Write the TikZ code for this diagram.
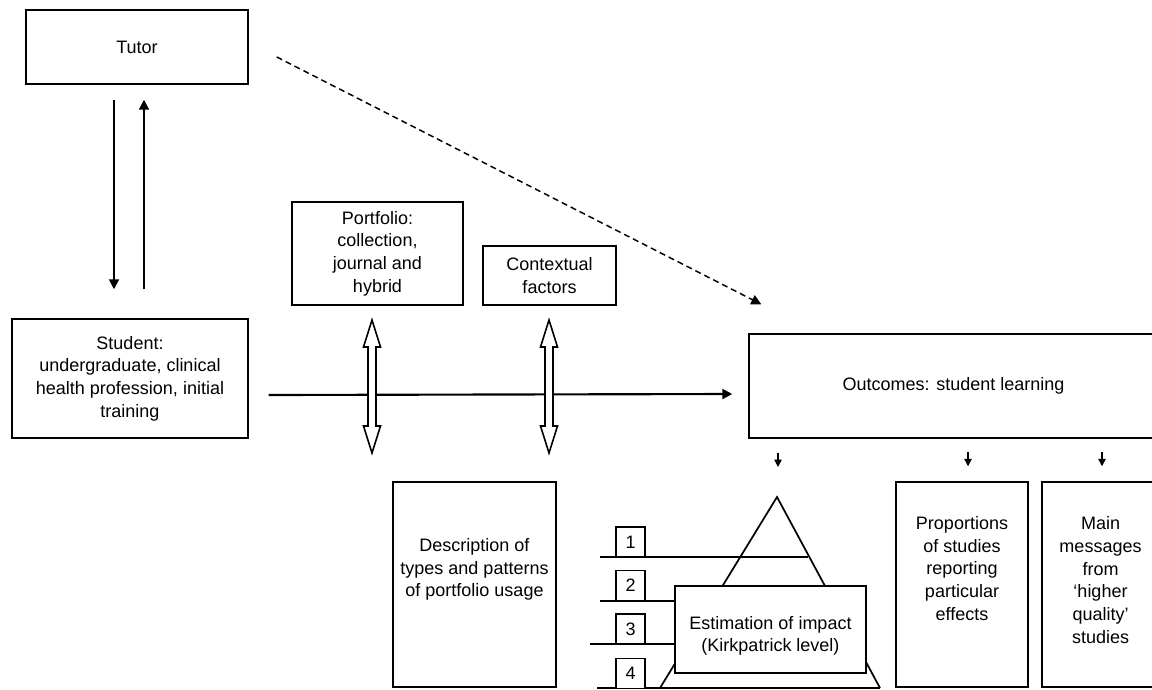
\documentclass[tikz,border=0pt]{standalone}
\usepackage{fontspec}
\setmainfont{Liberation Sans}
\usetikzlibrary{arrows.meta,calc}
\tikzset{
  dblarr/.pic={
    \draw[line width=1.2pt, fill=white, line join=miter]
      (0,-66.5) -- (8.5,-39.5) -- (4,-39.5) -- (4,39.5) -- (8.5,39.5) -- (0,66.5)
      -- (-8.5,39.5) -- (-4,39.5) -- (-4,-39.5) -- (-8.5,-39.5) -- cycle;
  }
}
\begin{document}
\begin{tikzpicture}[x=0.75pt,y=-0.75pt,
  every node/.style={font=\fontsize{13.5}{17}\selectfont, align=center},
  box/.style={draw, line width=1.1pt, fill=white, inner sep=0pt},
  txt/.style={inner sep=0pt},
  arr/.style={line width=1.4pt, -{Triangle[length=7.5pt,width=7.5pt]}},
  sarr/.style={line width=1pt, -{Triangle[length=5.5pt,width=5.5pt]}},
  dsh/.style={line width=1.1pt, dash pattern=on 4.5pt off 3pt, -{Triangle[length=7.5pt,width=7.5pt]}},
  lvl/.style={line width=1.3pt}
]
\useasboundingbox (0,0) rectangle (1152,689);

% top-left boxes
\node[box, minimum width=166.5pt, minimum height=55.5pt] (tutor) at (137,47) {Tutor};
\node[box, minimum width=177pt, minimum height=89.25pt] (student) at (130,378.5)
  {Student:\\ undergraduate, clinical\\ health profession, initial\\ training};

% tutor <-> student
\draw[arr] ($(tutor.south)+(-23,15)$) -- ($(student.north)+(-16,-29)$);
\draw[arr] ($(student.north)+(14,-29)$) -- ($(tutor.south)+(7,15)$);

% portfolio and contextual
\node[box, minimum width=128.25pt, minimum height=77.25pt] (portfolio) at (377.5,253.5)
  {Portfolio:\\ collection,\\ journal and\\ hybrid};
\node[box, minimum width=99.75pt, minimum height=44.25pt] (context) at (549.5,275.5)
  {Contextual\\ factors};

% outcomes
\node[box, minimum width=306.75pt, minimum height=78pt] (outcomes) at (953.5,386)
  {Outcomes: student learning};

% main line and dashed line
\draw[arr, line width=1.6pt] ($(student.east)+(20,16.5)$) -- ($(outcomes.west)+(-16,8)$);
\draw[dsh] ($(tutor.east)+(28,10)$) -- ($(outcomes.north west)+(13,-29)$);

% double arrows
\pic at (372,386.5) {dblarr};
\pic at (549,386.5) {dblarr};

% description box
\node[box, minimum width=122.25pt, minimum height=153.75pt] (desc) at (474.5,584.5) {};
\node[txt] (desctext) at (474.5,569.5) {Description of\\ types and patterns\\ of portfolio usage};

% proportions and main messages
\node[box, minimum width=99pt, minimum height=153.75pt] (prop) at (962,584.5) {};
\node[txt] (proptext) at (962,568.5) {Proportions\\ of studies\\ reporting\\ particular\\ effects};
\node[box, minimum width=87.75pt, minimum height=153.75pt] (mainmsg) at (1100.5,584.5) {};
\node[txt] (maintext) at (1100.5,580) {Main\\ messages\\ from\\ ‘higher\\ quality’\\ studies};

% pyramid
\coordinate (apex) at (777,497);
\coordinate (bl) at (660,688);
\coordinate (br) at (880,688);
\draw[lvl, line join=miter] (bl) -- (apex) -- (br);
\coordinate (l1a) at (600,557); \coordinate (l1b) at (808,557);
\coordinate (l2a) at (600,601); \coordinate (l2b) at (700,601);
\coordinate (l3a) at (590,644); \coordinate (l3b) at (700,644);
\coordinate (l4a) at (597,688);
\draw[lvl] (l1a) -- (l1b);
\draw[lvl] (l2a) -- (l2b);
\draw[lvl] (l3a) -- (l3b);
\draw[lvl] (l4a) -- (br);
\node[box, minimum width=21.75pt, minimum height=22.5pt] (n1) at (630.5,542) {1};
\node[box, minimum width=21.75pt, minimum height=22.5pt] (n2) at (630.5,585.5) {2};
\node[box, minimum width=21.75pt, minimum height=22.5pt] (n3) at (630.5,629) {3};
\node[box, minimum width=21.75pt, minimum height=22.5pt] (n4) at (630.5,673.5) {4};
\node[box, minimum width=143.25pt, minimum height=65.25pt] (estim) at (770.5,629.5) {};
\node[txt] (estimtext) at (770.5,636) {Estimation of impact\\ (Kirkpatrick level)};

% small arrows from outcomes
\draw[sarr] ($(apex)+(1,-44)$) -- ($(apex)+(1,-30)$);
\draw[sarr] ($(prop.north)+(6,-29)$) -- ($(prop.north)+(6,-15)$);
\draw[sarr] ($(mainmsg.north)+(1.5,-29)$) -- ($(mainmsg.north)+(1.5,-15)$);
\end{tikzpicture}
\end{document}
